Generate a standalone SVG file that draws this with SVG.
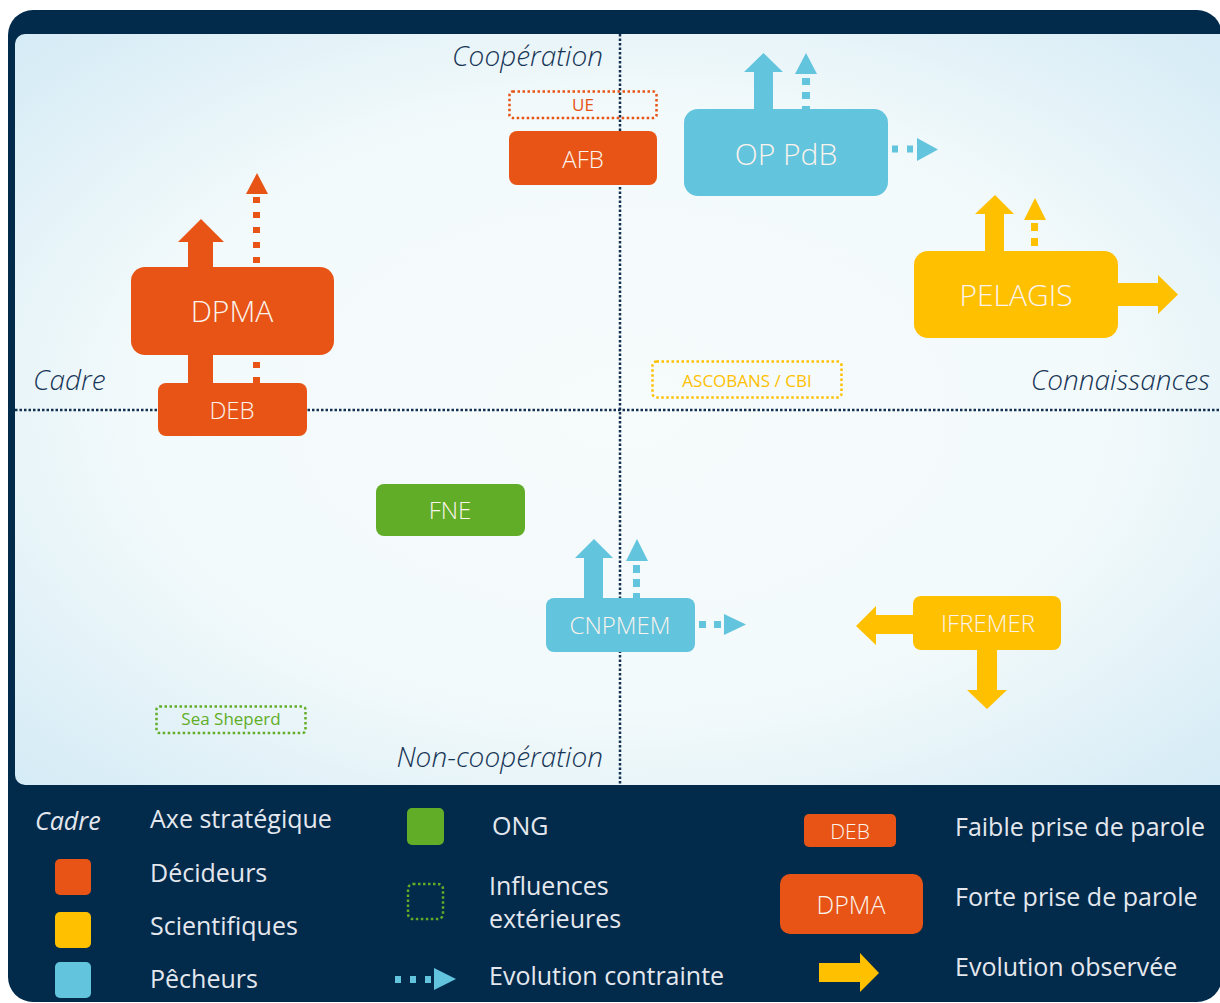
<svg xmlns="http://www.w3.org/2000/svg" width="1220" height="1003" viewBox="0 0 1220 1003">
<defs>
<radialGradient id="bg" cx="50%" cy="50%" r="72%">
<stop offset="0" stop-color="#f6fbfc"/>
<stop offset="0.55" stop-color="#f3fafb"/>
<stop offset="1" stop-color="#d3eaf5"/>
</radialGradient>
<style>
.lbl{font-family:"Open Sans","Noto Sans","Liberation Sans",sans-serif;font-weight:300;fill:#fbf3ec;text-anchor:middle}
.axis{font-family:"Open Sans","Noto Sans","Liberation Sans",sans-serif;font-style:italic;font-weight:300;font-size:28px;fill:#173556}
.leg{font-family:"Open Sans","Noto Sans","Liberation Sans",sans-serif;font-size:25px;fill:#e4e8ee}
.ax{stroke:#14304f;stroke-width:2.5;stroke-dasharray:2.5 2;fill:none}
.or{fill:#e75416}.ye{fill:#ffc000}.bl{fill:#63c4dd}.gr{fill:#62ad27}
.dor{stroke:#e75416}.dye{stroke:#ffc000}.dbl{stroke:#63c4dd}
.dash{fill:none}
.dot{fill:none;stroke-width:2.5;stroke-dasharray:2.5 2.5}
.sm{font-family:"Open Sans","Noto Sans","Liberation Sans",sans-serif;font-size:17px;text-anchor:middle}
</style>
</defs>
<rect x="8" y="10" width="1214" height="992" rx="25" fill="#022a4b"/>
<rect x="15" y="34" width="1215" height="751" rx="10" fill="url(#bg)"/>
<g id="axes">
<line class="ax" x1="620" y1="34" x2="620" y2="785"/>
<line class="ax" x1="15" y1="410" x2="1220" y2="410"/>
<text class="axis" x="603" y="66" text-anchor="end">Coopération</text>
<text class="axis" x="33" y="390">Cadre</text>
<text class="axis" x="1210" y="390" text-anchor="end">Connaissances</text>
<text class="axis" x="603" y="767" text-anchor="end">Non-coopération</text>
</g>
<g id="connectors">
<polygon class="or" points="188,383 188,242 178,242 201,219 224,242 213,242 213,383"/>
<line class="dash dor" x1="256.5" y1="197" x2="256.5" y2="383" stroke-width="7" stroke-dasharray="6 9"/>
<polygon class="or" points="246,194 257,173 268,194"/>
<polygon class="bl" points="754,110 754,72 744,72 763.5,53 783,72 773,72 773,110"/>
<line class="dash dbl" x1="806" y1="78" x2="806" y2="110" stroke-width="8" stroke-dasharray="7 7"/>
<polygon class="bl" points="795,74 806,53 817,74"/>
<line class="dash dbl" x1="892" y1="149" x2="914" y2="149" stroke-width="7" stroke-dasharray="6 9"/>
<polygon class="bl" points="917,138 938,149.5 917,161"/>
<polygon class="ye" points="985,251 985,214 975,214 995,195 1014,214 1004,214 1004,251"/>
<line class="dash dye" x1="1034.5" y1="223" x2="1034.5" y2="251" stroke-width="7" stroke-dasharray="8 7"/>
<polygon class="ye" points="1024,220 1035,198 1046,220"/>
<polygon class="ye" points="1118,283 1158,283 1158,275 1178,294.5 1158,314 1158,306 1118,306"/>
<polygon class="bl" points="584,598 584,558 575,558 594,539 613,558 603,558 603,598"/>
<line class="dash dbl" x1="636.5" y1="565" x2="636.5" y2="598" stroke-width="7" stroke-dasharray="8 6"/>
<polygon class="bl" points="626,561 637,539 648,561"/>
<line class="dash dbl" x1="699" y1="624.5" x2="722" y2="624.5" stroke-width="7" stroke-dasharray="7 8"/>
<polygon class="bl" points="724,614 746,624.5 724,635"/>
<polygon class="ye" points="913,615 876,615 876,606 856,626 876,645 876,634 913,634"/>
<polygon class="ye" points="977,650 977,690 967,690 987,709 1007,690 997,690 997,650"/>
</g>
<g id="node-ue">
<rect class="dot dor" x="509.5" y="91.5" width="147" height="26.5" rx="3"/>
<text class="sm" x="583" y="111" fill="#e75416">UE</text>
</g>
<g id="node-afb">
<rect class="or" x="509" y="131" width="148" height="54" rx="8"/>
<text class="lbl" x="583" y="168" font-size="24">AFB</text>
</g>
<g id="node-oppdb">
<rect class="bl" x="684" y="109" width="204" height="87" rx="14"/>
<text class="lbl" x="786" y="165" font-size="30">OP PdB</text>
</g>
<g id="node-dpma">
<rect class="or" x="131" y="267" width="203" height="88" rx="14"/>
<text class="lbl" x="232" y="322" font-size="30">DPMA</text>
</g>
<g id="node-deb">
<rect class="or" x="158" y="383" width="149" height="53" rx="8"/>
<text class="lbl" x="232" y="419" font-size="24">DEB</text>
</g>
<g id="node-pelagis">
<rect class="ye" x="914" y="251" width="204" height="87" rx="14"/>
<text class="lbl" x="1016" y="306" font-size="30">PELAGIS</text>
</g>
<g id="node-ascobans">
<rect class="dot dye" x="652.5" y="361.5" width="189" height="36" rx="4"/>
<text class="sm" x="747" y="387" fill="#ffc000">ASCOBANS / CBI</text>
</g>
<g id="node-fne">
<rect class="gr" x="376" y="484" width="149" height="52" rx="8"/>
<text class="lbl" x="450" y="519" font-size="24">FNE</text>
</g>
<g id="node-cnpmem">
<rect class="bl" x="546" y="598" width="149" height="54" rx="8"/>
<text class="lbl" x="620" y="634" font-size="24">CNPMEM</text>
</g>
<g id="node-ifremer">
<rect class="ye" x="913" y="596" width="148" height="54" rx="8"/>
<text class="lbl" x="988" y="632" font-size="24">IFREMER</text>
</g>
<g id="node-seasheperd">
<rect class="dot" stroke="#62ad27" x="156.5" y="706.5" width="149" height="26.5" rx="3"/>
<text class="sm" x="231" y="725" fill="#62ad27">Sea Sheperd</text>
</g>
<g id="legend">
<text class="leg" x="35" y="830" style="font-style:italic">Cadre</text>
<text class="leg" x="150" y="828">Axe stratégique</text>
<rect class="or" x="55" y="859" width="36" height="36" rx="5"/>
<text class="leg" x="150" y="882">Décideurs</text>
<rect class="ye" x="55" y="912" width="36" height="36" rx="5"/>
<text class="leg" x="150" y="935">Scientifiques</text>
<rect class="bl" x="55" y="962" width="36" height="36" rx="5"/>
<text class="leg" x="150" y="988">Pêcheurs</text>
<rect class="gr" x="407" y="808" width="37" height="37" rx="5"/>
<text class="leg" x="492" y="835">ONG</text>
<rect class="dot" stroke="#62ad27" x="408" y="884" width="35" height="35" rx="5"/>
<text class="leg" x="489" y="895">Influences</text>
<text class="leg" x="489" y="928">extérieures</text>
<line class="dash dbl" x1="395" y1="979.5" x2="432" y2="979.5" stroke-width="7" stroke-dasharray="6 9"/>
<polygon class="bl" points="434,968 456,979 434,990"/>
<text class="leg" x="489" y="985">Evolution contrainte</text>
<rect class="or" x="804" y="814" width="92" height="33" rx="5"/>
<text class="lbl" x="850" y="839" font-size="21">DEB</text>
<rect class="or" x="780" y="874" width="143" height="60" rx="10"/>
<text class="lbl" x="851" y="914" font-size="25">DPMA</text>
<polygon class="ye" points="819,963 860,963 860,953 879,973 860,992 860,982 819,982"/>
<text class="leg" x="955" y="836">Faible prise de parole</text>
<text class="leg" x="955" y="906">Forte prise de parole</text>
<text class="leg" x="955" y="976">Evolution observée</text>
</g>
</svg>
